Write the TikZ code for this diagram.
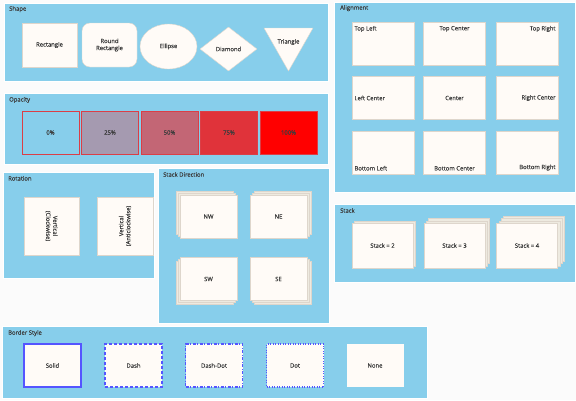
\documentclass[tikz,border=0pt]{standalone}
\usepackage{fontspec}
\setmainfont{Open Sans}
\newfontfamily\lblfont[FakeBold=0.4]{Open Sans}
\usetikzlibrary{shapes.geometric,positioning}
\definecolor{panelblue}{RGB}{135,206,235}
\definecolor{cardfill}{RGB}{255,251,247}
\definecolor{cardline}{RGB}{222,214,204}
\definecolor{layerfill}{RGB}{238,234,224}
\definecolor{inkgray}{RGB}{60,60,60}
\definecolor{edgeblue}{RGB}{85,85,255}
\newcommand{\lblsize}{\lblfont\fontsize{5.9}{7}\selectfont}
\tikzset{
  panel/.style={fill=panelblue,draw=white,line width=0.8pt},
  ttl/.style={font=\lblsize,text=inkgray,anchor=north west,inner sep=0pt},   % panel titles
  card/.style={draw=cardline,fill=cardfill,inner sep=0pt,minimum width=57pt,
    minimum height=43pt,font=\lblsize,text=inkgray,align=center},
  layer/.style={card,fill=layerfill},
  lbl/.style={font=\lblsize,text=inkgray,inner sep=0pt,align=center},
  bordered/.style={card,draw=edgeblue,line width=1.1pt},
  opq/.style={card,draw=red!70!panelblue,fill=red,fill opacity=#1,text opacity=1},
}

\begin{document}
\begin{tikzpicture}[x=1pt,y=-1pt]
    \fill[gray!3] (0,0) rectangle (576,400);
    \useasboundingbox (0,0) rectangle (576,400);
    % ---- shape ----
    \draw[panel] (4,3) rectangle (328,81);
    \node[ttl] (shapeT) at (9,6) {Shape};
    \node[card,minimum width=55pt,minimum height=44pt] (rect) at (49.5,45) {Rectangle};
    \node[card,minimum width=55pt,minimum height=44pt,rounded corners=8pt] (rrect) at (109.5,45) {Round\\Rectangle};
    \node[card,ellipse,minimum width=57pt,minimum height=45pt] (ell) at (168.5,46.5) {Ellipse};
    \node[card,diamond,minimum width=57pt,minimum height=44pt] (dia) at (228.5,49) {Diamond};
    \draw[draw=cardline,fill=cardfill] (264,28) -- (313,28) -- (288.5,71) -- cycle;
    \node[lbl] (tri) at (288.5,42) {Triangle};
    % ---- opacity ----
    \draw[panel] (4,93) rectangle (328,164);
    \node[ttl] (opT) at (9,97) {Opacity};
    \foreach \v/\o [count=\i from 0] in {0/0,25/0.25,50/0.5,75/0.75,100/1}
      \node[opq=\o] (op\v) at ({50.5+59.5*\i},132.5) {\v\%};
    % ---- rotation ----
    \draw[panel] (3,172) rectangle (154,278);
    \node[ttl] (rotT) at (8,176) {Rotation};
    \node[card,minimum width=55pt,minimum height=58pt] (rotcw) at (51.5,226) {};
    \node[lbl,rotate=-90] (rotcwT) at (rotcw) {Vertical\\(Clockwise)};
    \node[card,minimum width=56pt,minimum height=58pt] (rotacw) at (125,226) {};
    \node[lbl,rotate=90] (rotacwT) at (rotacw) {Vertical\\(Anticlockwise)};
    % ---- stack direction ----
    \draw[panel] (158,168) rectangle (329,323);
    \node[ttl] (dirT) at (163,172) {Stack Direction};
    \foreach \d/\x/\y/\dx/\dy in {NW/208.5/216.5/-1/-1,NE/278.5/216.5/1/-1,SW/208.5/279/-1/1,SE/278.5/279/1/1}{
      \foreach \k in {2,1} \node[layer] (dir\d-\k) at ({\x+2*\k*\dx},{\y+2*\k*\dy}) {};
      \node[card] (dir\d) at (\x,\y) {\d};
    }
    % ---- alignment ----
    \draw[panel] (334,2) rectangle (575,192);
    \node[ttl] (alT) at (340,5) {Alignment};
    \foreach \n/\x/\y/\a/\t in {tl/383/43.5/north west/Top Left,tc/454.5/43.5/north/Top Center,
        tr/527/43.5/north east/Top Right,lc/383/98/west/Left Center,cc/454.5/98/center/Center,
        rc/527/98/east/Right Center,bl/383/153/south west/Bottom Left,bc/454.5/153/south/Bottom Center,
        br/527/153/south east/Bottom Right}{
      \node[card,minimum width=62pt] (al\n) at (\x,\y) {};
      \node[lbl,anchor=\a,inner xsep=2.5pt,inner ysep=4pt] (al\n T) at (al\n.\a) {\t};
    }
    % ---- stack ----
    \draw[panel] (334,204) rectangle (575,282);
    \node[ttl] (stT) at (340,208) {Stack};
    \foreach \n/\x in {2/382.5,3/454.5,4/527}{
      \pgfmathtruncatemacro\m{\n-1}
      \foreach \k in {\m,...,1} \node[layer,minimum width=61pt,minimum height=45pt] (st\n-\k) at ({\x+2.3*\k},{245.5-2.3*\k}) {};
      \node[card,minimum width=61pt,minimum height=45pt] (st\n) at (\x,245.5) {Stack = \n};
    }
    % ---- border style ----
    \draw[panel] (2,326) rectangle (427,398);
    \node[ttl] (bdT) at (8,330) {Border Style};
    \node[bordered] (bdSolid) at (52.5,365.5) {Solid};
    \node[bordered,dash pattern=on 3pt off 2pt] (bdDash) at (133.5,365.5) {Dash};
    \node[bordered,dash pattern=on 3pt off 1.5pt on 1pt off 1.5pt] (bdDashDot) at (214,365.5) {Dash-Dot};
    \node[bordered,dash pattern=on 1pt off 1.5pt] (bdDot) at (295,365.5) {Dot};
    \node[card,draw=none] (bdNone) at (375,365.5) {None};
\end{tikzpicture}
\end{document}
